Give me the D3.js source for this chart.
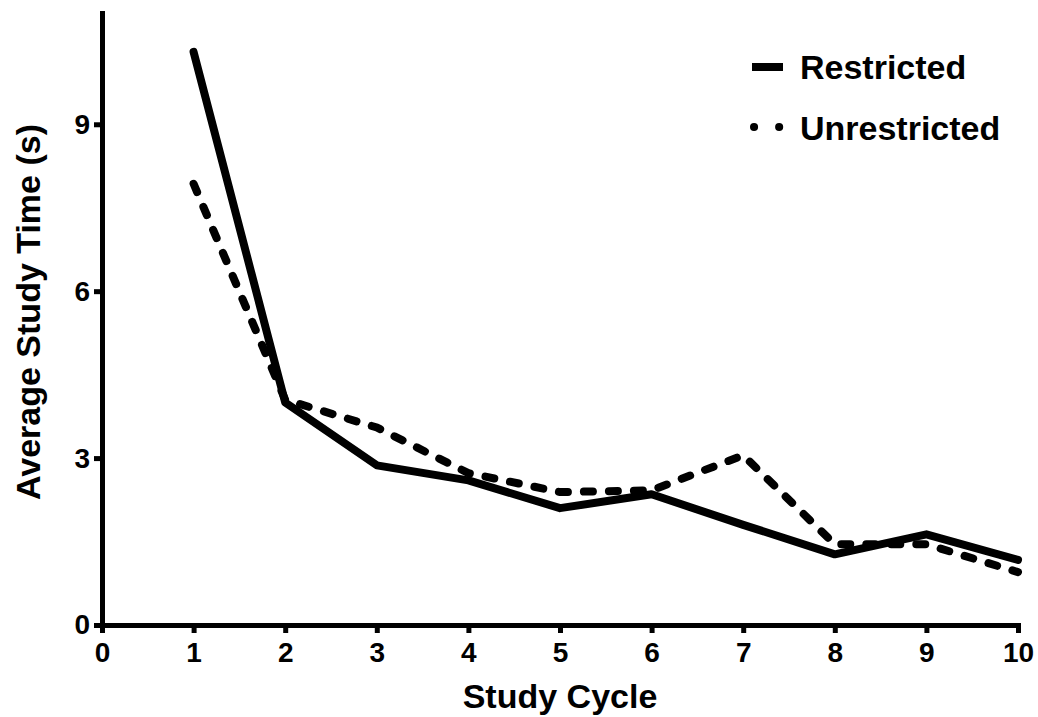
<!DOCTYPE html>
<html>
<head>
<meta charset="utf-8">
<script src="https://cdnjs.cloudflare.com/ajax/libs/d3/7.8.5/d3.min.js"></script>
<style>
  body { margin: 0; background: #fff; }
  svg { font-family: "Liberation Sans", Arial, sans-serif; font-weight: bold; }
</style>
</head>
<body>
<script>
// study cycles and mean study time per condition
var cycles = [1, 2, 3, 4, 5, 6, 7, 8, 9, 10];
var restricted = [10.3, 4.0, 2.87, 2.6, 2.1, 2.35, 1.8, 1.27, 1.63, 1.17];
var unrestricted = [7.93, 4.05, 3.55, 2.73, 2.39, 2.42, 3.05, 1.45, 1.45, 0.95];
var xTicks = [0, 1, 2, 3, 4, 5, 6, 7, 8, 9, 10];
var yTicks = [0, 3, 6, 9];

function init() {
    var w = 1038;
    var h = 717;
    var left = 102, right = 1018, top = 13, bottom = 625;

    var svg = d3.select("body")
        .append("svg")
        .attr("width", w)
        .attr("height", h);

    var x = d3.scaleLinear().domain([0, 10]).range([left, right]);
    var y = d3.scaleLinear().domain([0, 11]).range([bottom, top]);

    // axes
    var xAxis = svg.append("g")
        .attr("transform", "translate(0," + bottom + ")")
        .call(d3.axisBottom(x).tickValues(xTicks).tickSize(8).tickSizeOuter(0).tickPadding(9)
            .tickFormat(d3.format("d")));

    var yAxis = svg.append("g")
        .attr("transform", "translate(" + left + ",0)")
        .call(d3.axisLeft(y).tickValues(yTicks).tickSize(8).tickSizeOuter(0).tickPadding(4)
            .tickFormat(d3.format("d")));

    [xAxis, yAxis].forEach(function (g) {
        g.select(".domain").attr("stroke", "#000").attr("stroke-width", 5).attr("stroke-linecap", "square");
        g.selectAll(".tick line").attr("stroke", "#000").attr("stroke-width", 5);
        g.selectAll(".tick text")
            .attr("fill", "#000")
            .attr("font-size", 28)
            .attr("font-weight", "bold")
            .attr("font-family", "'Liberation Sans', Arial, sans-serif");
    });

    // axis titles
    svg.append("text")
        .attr("x", (left + right) / 2)
        .attr("y", 708)
        .attr("text-anchor", "middle")
        .attr("font-size", 34)
        .text("Study Cycle");

    svg.append("text")
        .attr("transform", "translate(40," + 312 + ") rotate(-90)")
        .attr("text-anchor", "middle")
        .attr("font-size", 34)
        .text("Average Study Time (s)");

    // lines
    var line = d3.line()
        .x(function (d) { return x(d[0]); })
        .y(function (d) { return y(d[1]); });

    svg.append("path")
        .datum(d3.zip(cycles, unrestricted))
        .attr("fill", "none")
        .attr("stroke", "#000")
        .attr("stroke-width", 8)
        .attr("stroke-linecap", "round")
        .attr("stroke-dasharray", "9,16")
        .attr("d", line);

    svg.append("path")
        .datum(d3.zip(cycles, restricted))
        .attr("fill", "none")
        .attr("stroke", "#000")
        .attr("stroke-width", 8)
        .attr("stroke-linejoin", "round")
        .attr("stroke-linecap", "round")
        .attr("d", line);

    // legend
    var legend = svg.append("g");
    legend.append("line")
        .attr("x1", 752).attr("x2", 783)
        .attr("y1", 67).attr("y2", 67)
        .attr("stroke", "#000")
        .attr("stroke-width", 8);
    legend.append("line")
        .attr("x1", 754).attr("x2", 784)
        .attr("y1", 127).attr("y2", 127)
        .attr("stroke", "#000")
        .attr("stroke-width", 8)
        .attr("stroke-linecap", "round")
        .attr("stroke-dasharray", "0.1,25");
    legend.append("text")
        .attr("x", 800).attr("y", 79)
        .attr("font-size", 34)
        .text("Restricted");
    legend.append("text")
        .attr("x", 800).attr("y", 140)
        .attr("font-size", 34)
        .text("Unrestricted");
}
window.onload = init;
</script>
</body>
</html>
